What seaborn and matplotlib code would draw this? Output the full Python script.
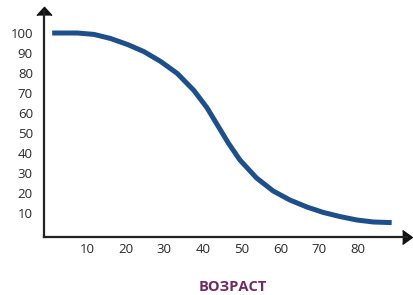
import matplotlib
matplotlib.use("Agg")
import matplotlib.pyplot as plt
import seaborn as sns
import pandas as pd

# Data
age = [1, 7.5, 11.8, 16, 20.4, 24.7, 29, 33.3, 37.6, 41, 44, 46.5, 49.5,
       53.8, 58.1, 62.4, 66.8, 71, 75.4, 79.7, 84, 88.7]
value = [100, 100, 99.3, 97.3, 94.3, 90.7, 85.8, 79.8, 71.3, 62.6, 53, 45, 36.5,
         27.5, 21, 16.5, 13, 10.3, 8.2, 6.5, 5.5, 5.2]
x_ticks = [10, 20, 30, 40, 50, 60, 70, 80]
y_ticks = [10, 20, 30, 40, 50, 60, 70, 80, 90, 100]
x_label = "ВОЗРАСТ"

df = pd.DataFrame({"age": age, "value": value})

sns.set_style("white")
plt.rcParams["font.family"] = ["Open Sans", "DejaVu Sans"]

W, H = 413, 295
fig = plt.figure(figsize=(W / 100, H / 100), dpi=100)
left, right, bottom, top = 44, 407, 237, 11
ax = fig.add_axes([left / W, (H - bottom) / H, (right - left) / W, (bottom - top) / H])

sns.lineplot(data=df, x="age", y="value", ax=ax, color="#1d4f8a", lw=3.6,
             sort=False, estimator=None, solid_capstyle="butt",
             solid_joinstyle="round")

ax.set_xlim(-1.11, 92.66)
ax.set_ylim(-2, 111)
ax.set_xticks(x_ticks)
ax.set_yticks(y_ticks)
ax.set_xlabel("")
ax.set_ylabel("")
ax.tick_params(axis="both", length=0, labelsize=9.5, labelcolor="#2a2a2a")
ax.tick_params(axis="y", pad=8)
ax.tick_params(axis="x", pad=4)

for s in ["top", "right"]:
    ax.spines[s].set_visible(False)
for s in ["left", "bottom"]:
    ax.spines[s].set_color("#222222")
    ax.spines[s].set_linewidth(1.6)

# Arrowheads at the axis ends
ax.plot(1, 0, marker=[(-0.7, -1), (0.7, 0), (-0.7, 1)], ms=10, color="#111111",
        transform=ax.transAxes, clip_on=False)
ax.plot(0, 1, marker=[(-1, -0.55), (0, 0.55), (1, -0.55)], ms=10.8, color="#111111",
        transform=ax.transAxes, clip_on=False)

fig.text(233 / W, 1 - 287 / H, x_label, ha="center", va="center",
         fontsize=10.5, fontweight="bold", color="#6d2b62")

fig.savefig("out.png", dpi=100)
